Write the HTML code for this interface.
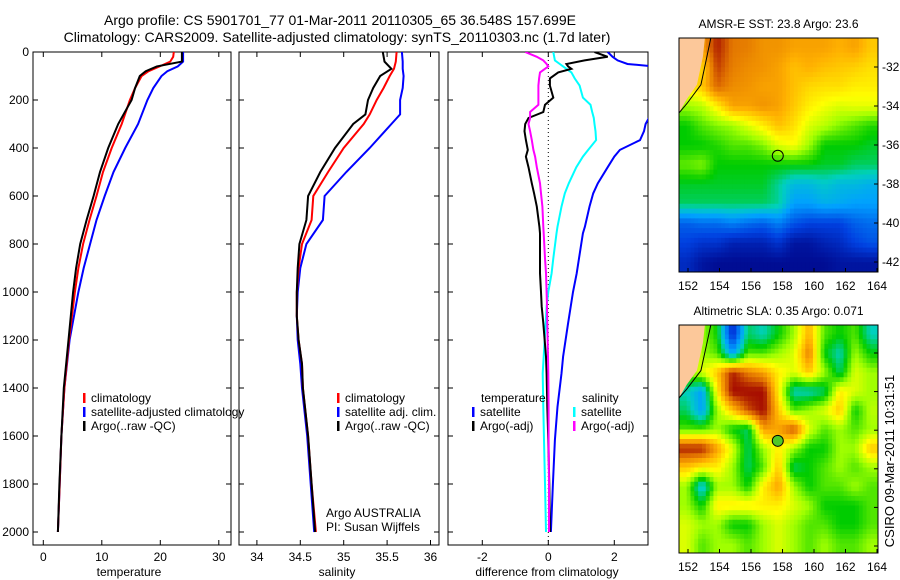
<!DOCTYPE html>
<html><head><meta charset="utf-8"><style>
html,body{margin:0;padding:0;background:#fff}
svg{display:block;font-family:"Liberation Sans",sans-serif}
</style></head><body>
<svg id="fig" width="900" height="580" viewBox="0 0 900 580">
<defs>
<clipPath id="c1"><rect x="33" y="52" width="198" height="493"/></clipPath>
<clipPath id="c2"><rect x="239" y="52" width="200" height="493"/></clipPath>
<clipPath id="c3"><rect x="448" y="52" width="200" height="493"/></clipPath>
</defs>
<text x="340" y="25" font-size="14" text-anchor="middle">Argo profile: CS 5901701_77 01-Mar-2011 20110305_65 36.548S 157.699E</text>
<text x="337" y="42" font-size="14" text-anchor="middle">Climatology: CARS2009. Satellite-adjusted climatology: synTS_20110303.nc (1.7d later)</text>
</svg>
<script>
// ---- profile data ----
const depthT = [0,20,40,60,80,100,150,200,300,400,500,600,700,800,900,1000,1200,1400,1600,1800,2000];
const tempClim = [22.3,22.2,21.7,19.9,18.0,16.8,15.7,14.8,13.4,11.7,10.2,9.1,7.9,6.8,6.0,5.4,4.4,3.6,3.1,2.8,2.5];
const tempArgo = [23.7,23.7,23.7,19.4,17.5,16.5,15.7,15.1,12.8,11.1,9.7,8.6,7.4,6.3,5.6,5.1,4.3,3.5,3.1,2.75,2.5];
const tempSat  = [23.9,23.9,23.9,23.0,21.2,20.2,18.8,17.8,16.2,14.0,12.0,10.5,9.1,8.0,6.9,6.0,4.5,3.6,3.1,2.8,2.5];
const depthS = [0,40,70,100,150,200,260,300,400,500,600,700,800,900,1000,1100,1200,1300,1400,1600,1800,2000];
const salClim = [35.61,35.6,35.58,35.53,35.46,35.38,35.3,35.23,35.0,34.82,34.65,34.63,34.52,34.48,34.46,34.46,34.48,34.52,34.53,34.59,34.63,34.68];
const salArgo = [35.45,35.47,35.55,35.42,35.34,35.28,35.25,35.11,34.9,34.73,34.59,34.57,34.49,34.47,34.46,34.46,34.48,34.52,34.53,34.59,34.63,34.67];
const salSat  = [35.67,35.68,35.68,35.69,35.68,35.65,35.65,35.55,35.3,35.03,34.78,34.76,34.57,34.5,34.47,34.46,34.47,34.5,34.52,34.58,34.62,34.66];
const depthD = [0,20,35,50,60,70,85,110,140,190,220,250,275,300,330,367,408,436,480,547,589,644,728,756,860,922,1000,1061,1130,1269,1339,1478,1617,1800,2000];
const diffTempSat = [1.8,1.95,2.1,2.4,3.2,3.4,3.5,3.6,3.6,3.6,3.5,3.3,3.05,2.95,2.9,2.78,2.17,2.0,1.8,1.5,1.36,1.25,1.11,1.05,0.93,0.86,0.75,0.68,0.6,0.45,0.4,0.28,0.2,0.14,0.08];
const diffTempArgo = [1.4,1.8,1.1,0.55,0.6,0.7,0.3,0.05,0.05,0.15,-0.1,-0.15,-0.6,-0.7,-0.72,-0.68,-0.62,-0.68,-0.6,-0.5,-0.43,-0.35,-0.27,-0.25,-0.25,-0.25,-0.22,-0.2,-0.15,-0.07,-0.05,-0.03,0.0,0.03,0.05];
const diffSalSat = [0.15,0.18,0.2,0.35,0.45,0.55,0.7,0.8,0.95,1.05,1.28,1.33,1.38,1.4,1.43,1.45,1.21,1.05,0.85,0.62,0.5,0.4,0.28,0.25,0.15,0.1,0.0,-0.05,-0.08,-0.14,-0.17,-0.15,-0.13,-0.1,-0.07];
const diffSalArgo = [-0.7,-0.35,-0.15,-0.05,0.0,-0.1,-0.25,-0.28,-0.3,-0.3,-0.3,-0.55,-0.55,-0.6,-0.55,-0.5,-0.45,-0.4,-0.35,-0.25,-0.22,-0.18,-0.15,-0.14,-0.1,-0.07,-0.05,-0.04,-0.03,-0.01,0.0,0.01,0.01,0.02,0.02];
const depthTicks = [0,200,400,600,800,1000,1200,1400,1600,1800,2000];
const tempTicks = [0,10,20,30];
const salTicks = [34,34.5,35,35.5,36];
const diffTicks = [-2,0,2];
// ---- map data (values 0..1 on colour scale, -1 = land) ----
const sstGrid = [
[-1,-1,.95,.86,.85,.82,.82,.8,.8,.8,.78,.8,.75],
[-1,.72,.92,.85,.83,.82,.8,.76,.78,.76,.75,.74,.72],
[.7,.75,.88,.83,.82,.8,.8,.76,.73,.72,.72,.7,.7],
[.6,.62,.7,.8,.8,.82,.8,.75,.7,.67,.65,.66,.66],
[.5,.55,.58,.6,.65,.7,.76,.72,.65,.62,.58,.55,.52],
[.5,.5,.52,.55,.55,.58,.65,.68,.6,.5,.5,.5,.48],
[.56,.58,.5,.5,.5,.5,.5,.5,.5,.48,.48,.45,.45],
[.48,.48,.48,.48,.48,.48,.42,.35,.35,.38,.35,.35,.33],
[.45,.45,.45,.45,.45,.45,.42,.3,.3,.33,.32,.3,.3],
[.2,.22,.22,.25,.22,.2,.25,.18,.15,.15,.15,.2,.22],
[.15,.12,.12,.08,.08,.08,.12,.05,.05,.08,.1,.15,.18],
[.1,.05,.03,.03,.03,.03,.03,.03,.03,.03,.05,.05,.05]];
const slaGrid = [
[-1,.6,.5,.1,.45,.4,.5,.6,.78,.55,.5,.55,.4],
[-1,.6,.55,.3,.55,.55,.6,.65,.85,.5,.4,.6,.5],
[.6,.65,.75,.95,.85,.8,.7,.65,.75,.6,.45,.65,.6],
[.4,.3,.7,.98,.98,.98,.7,.4,.4,.45,.7,.65,.6],
[.45,.3,.6,.75,.9,.98,.75,.55,.6,.65,.75,.5,.62],
[.55,.55,.6,.5,.45,.8,.8,.9,.65,.55,.6,.55,.6],
[.95,.95,.8,.65,.45,.6,.7,.6,.5,.5,.6,.6,.75],
[.75,.7,.7,.6,.45,.55,.75,.45,.5,.55,.6,.55,.6],
[.6,.35,.6,.6,.5,.7,.8,.6,.5,.55,.55,.6,.55],
[.6,.5,.7,.7,.7,.7,.7,.65,.6,.5,.5,.5,.55],
[.65,.6,.6,.5,.5,.6,.65,.6,.55,.55,.5,.5,.55],
[.65,.55,.6,.6,.55,.6,.65,.6,.55,.6,.55,.55,.6]];
const latTicks = [-32,-34,-36,-38,-40,-42];
const lonTicks = [152,154,156,158,160,162,164];
const argoLon = 157.7, argoLat = -36.55;

const NS='http://www.w3.org/2000/svg';
const svg=document.getElementById('fig');
function mk(tag,attrs,parent){const e=document.createElementNS(NS,tag);for(const k in attrs)e.setAttribute(k,attrs[k]);(parent||svg).appendChild(e);return e;}
function txt(s,x,y,attrs,parent){const e=mk('text',Object.assign({x:x,y:y,'font-size':12},attrs||{}),parent);e.textContent=s;return e;}

const yD = d => 52 + d*0.24;
const xT = t => 43.3 + t*5.85;
const xS = s => 300.3 + (s-34.5)*86.8;
const xDf = v => 548.3 + v*33;

function frame(x0,x1,name,ticks,fx,fmt,xlabel,cx){
  const g=mk('g',{});
  
  
  const r=mk('rect',{x:x0,y:52,width:x1-x0,height:493,fill:'none',stroke:'#000','stroke-width':1},g);
  
  
  depthTicks.forEach(d=>{const y=yD(d);mk('line',{x1:x0,x2:x0+5,y1:y,y2:y,stroke:'#000'},g);mk('line',{x1:x1-5,x2:x1,y1:y,y2:y,stroke:'#000'},g);});
  ticks.forEach(t=>{const x=fx(t);mk('line',{x1:x,x2:x,y1:52,y2:57,stroke:'#000'},g);mk('line',{x1:x,x2:x,y1:540,y2:545,stroke:'#000'},g);
    const l=txt(fmt(t),x,561,{'text-anchor':'middle'},g);
    
    });
  const xl=txt(xlabel,cx,576,{'text-anchor':'middle'},g);
  
  
  return g;
}
frame(33,231,'temperature-panel',tempTicks,xT,t=>String(t),'temperature',129);
frame(239,439,'salinity-panel',salTicks,xS,t=>String(t),'salinity',337);
frame(448,648,'difference-panel',diffTicks,xDf,t=>String(t),'difference from climatology',547);
depthTicks.forEach(d=>{const l=txt(String(d),29,yD(d)+4,{'text-anchor':'end'});
  
  });
const zl=mk('line',{x1:xDf(0),x2:xDf(0),y1:52,y2:545,stroke:'#000','stroke-dasharray':'1,3'});



function series(depths,vals,fx,color,clip,name){
  const pts=depths.map((d,i)=>fx(vals[i]).toFixed(1)+','+yD(d).toFixed(1)).join(' ');
  const pl=mk('polyline',{points:pts,fill:'none',stroke:color,'stroke-width':2,'clip-path':'url(#'+clip+')'});
  
  
}
series(depthT,tempSat,xT,'#0000ff','c1','temp-satellite-line');
series(depthT,tempClim,xT,'#ff0000','c1','temp-climatology-line');
series(depthT,tempArgo,xT,'#000000','c1','temp-argo-line');
series(depthS,salSat,xS,'#0000ff','c2','sal-satellite-line');
series(depthS,salClim,xS,'#ff0000','c2','sal-climatology-line');
series(depthS,salArgo,xS,'#000000','c2','sal-argo-line');
series(depthD,diffTempSat,xDf,'#0000ff','c3','diff-temp-satellite-line');
series(depthD,diffSalSat,xDf,'#00ffff','c3','diff-sal-satellite-line');
series(depthD,diffTempArgo,xDf,'#000000','c3','diff-temp-argo-line');
series(depthD,diffSalArgo,xDf,'#ff00ff','c3','diff-sal-argo-line');

function legend(x,y,color,label,name){
  const g=mk('g',{});
  
  
  mk('rect',{x:x,y:y-9,width:2.5,height:10,fill:color},g);
  txt(label,x+8,y,{},g);
}
legend(83,402,'#ff0000','climatology','legend-climatology');
legend(83,416,'#0000ff','satellite-adjusted climatology','legend-satellite-adjusted');
legend(83,430,'#000000','Argo(..raw -QC)','legend-argo');
legend(337,402,'#ff0000','climatology','legend-sal-climatology');
legend(337,416,'#0000ff','satellite adj. clim.','legend-sal-satellite');
legend(337,430,'#000000','Argo(..raw -QC)','legend-sal-argo');
let t;
t=txt('temperature',481,402);
t=txt('salinity',582,402);
legend(472,416,'#0000ff','satellite','legend-diff-temp-satellite');
legend(472,430,'#000000','Argo(-adj)','legend-diff-temp-argo');
legend(573,416,'#00ffff','satellite','legend-diff-sal-satellite');
legend(573,430,'#ff00ff','Argo(-adj)','legend-diff-sal-argo');
t=txt('Argo AUSTRALIA',326,517);
t=txt('PI: Susan Wijffels',326,531);

// ---- maps ----
const stops=[[0,[0,0,128]],[.15,[0,64,224]],[.3,[0,160,255]],[.4,[0,208,190]],[.5,[0,204,0]],[.6,[160,255,0]],[.68,[255,255,0]],[.78,[255,176,0]],[.87,[224,112,0]],[.95,[176,32,0]],[1,[160,0,0]]];
function cmap(v){for(let i=1;i<stops.length;i++){if(v<=stops[i][0]){const a=stops[i-1],b=stops[i],f=(v-a[0])/(b[0]-a[0]);return 'rgb('+a[1].map((c,k)=>Math.round(c+(b[1][k]-c)*f)).join(',')+')';}}return 'rgb(160,0,0)';}
function sample(grid,fr,fc){
  const rows=grid.length,cols=grid[0].length;
  const r=Math.max(0,Math.min(rows-1,fr)),c=Math.max(0,Math.min(cols-1,fc));
  const r0=Math.floor(r),c0=Math.floor(c),r1=Math.min(rows-1,r0+1),c1=Math.min(cols-1,c0+1);
  const fy=r-r0,fx=c-c0;
  const g=(a,b)=>{const v=grid[a][b];return v<0?0.8:v;};
  return g(r0,c0)*(1-fx)*(1-fy)+g(r0,c1)*fx*(1-fy)+g(r1,c0)*(1-fx)*fy+g(r1,c1)*fx*fy;
}
function drawMap(grid,x0,y0,w,h,lat32y,latScale,name,title,circleFill,showLat){
  const g=mk('g',{});
  
  
  const lonX=lon=>688+(lon-152)*15.75;
  const latY=lat=>lat32y+(-32-lat)*latScale;
  const rows=grid.length,cols=grid[0].length,S=4;
  const cw=w/(cols*S),ch=h/(rows*S);
  for(let r=0;r<rows*S;r++)for(let c=0;c<cols*S;c++){
    const v=sample(grid,(r+0.5)/S-0.5,(c+0.5)/S-0.5);
    const cell=mk('rect',{x:(x0+c*cw).toFixed(2),y:(y0+r*ch).toFixed(2),width:(cw+0.5).toFixed(2),height:(ch+0.5).toFixed(2),fill:cmap(v)},g);
    
    
  }
  const P=(fx,fy)=>(x0+fx*w).toFixed(1)+','+(y0+fy*h).toFixed(1);
  const land=mk('polygon',{points:[P(0,0),P(0.13,0),P(0.12,0.08),P(0.09,0.2),P(0.04,0.26),P(0,0.32)].join(' '),fill:'#fcc89a'},g);
  
  
  mk('polyline',{points:[P(0.16,0),P(0.14,0.08),P(0.11,0.2),P(0.04,0.28),P(0,0.32)].join(' '),fill:'none',stroke:'#000','stroke-width':1},g);
  mk('rect',{x:x0,y:y0,width:w,height:h,fill:'none',stroke:'#000'},g);
  latTicks.forEach(l=>{const y=latY(l);mk('line',{x1:x0+w-4,x2:x0+w,y1:y,y2:y,stroke:'#000'},g);
    if(showLat){const lab=txt(String(l),x0+w+4,y+4,{},g);
    
    }});
  lonTicks.forEach(l=>{const x=lonX(l);mk('line',{x1:x,x2:x,y1:y0+h-4,y2:y0+h,stroke:'#000'},g);
    const lab=txt(String(l),x,y0+h+18,{'text-anchor':'middle'},g);
    
    });
  const tt=txt(title,x0+w/2,y0-10,{'text-anchor':'middle'},g);
  
  
  const c=mk('circle',{cx:lonX(argoLon),cy:latY(argoLat),r:5.5,fill:circleFill,stroke:'#000'},g);
  
  
}
drawMap(sstGrid,679,38,199,234,67,19.5,'sst-map','AMSR-E SST: 23.8 Argo: 23.6','none',true);
drawMap(slaGrid,679,325,199,228,353,19.3,'sla-map','Altimetric SLA: 0.35 Argo: 0.071','rgb(80,200,40)',false);
t=txt('CSIRO 09-Mar-2011 10:31:51',0,0,{'font-size':13,'text-anchor':'middle',transform:'translate(894,461) rotate(-90)'});


</script>
</body></html>
